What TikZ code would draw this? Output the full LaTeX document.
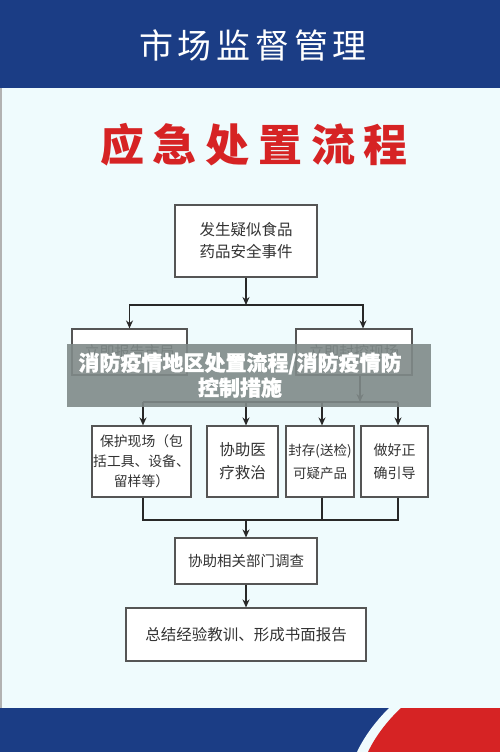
\documentclass[tikz,border=0pt]{standalone}
\usepackage{fontspec}
\usetikzlibrary{arrows.meta,calc}
\newfontfamily\cjk{Noto Sans CJK SC}
\definecolor{hdrblue}{RGB}{27,61,133}
\definecolor{bgc}{RGB}{239,251,253}
\definecolor{tred}{RGB}{214,35,36}
\definecolor{linec}{RGB}{40,40,40}
\definecolor{boxc}{RGB}{85,85,85}
\definecolor{txt}{RGB}{51,51,51}
\definecolor{ovl}{RGB}{128,138,137}
\begin{document}
\begin{tikzpicture}[x=1pt,y=-1pt,
  box/.style={draw=boxc,line width=1.1pt,fill=white,inner sep=0pt,align=center,text=txt},
  arr/.style={draw=linec,line width=1.4pt,-{Stealth[length=8pt,width=7pt]}},
  ln/.style={draw=linec,line width=1.4pt}]
\useasboundingbox (0,0) rectangle (500,752);
\fill[bgc] (0,0) rectangle (500,752);
\fill[hdrblue] (0,0) rectangle (500,88);
\fill[hdrblue] (0,708) rectangle (500,752);
\fill[bgc] (389,708) .. controls (375,722) and (364,737) .. (357,752) -- (500,752) -- (500,708) -- cycle;
\fill[tred] (401,708) .. controls (387,721) and (375,737) .. (368,752) -- (500,752) -- (500,708) -- cycle;
\draw[gray!60,line width=1.5pt] (0.75,88) -- (0.75,708);

\node[text=white,font=\cjk\fontsize{34}{40}\selectfont\addfontfeature{LetterSpace=14}] (hdr) at (253,45) {市场监督管理};
\node[text=tred,font=\cjk\bfseries\fontsize{44}{50}\selectfont\addfontfeature{LetterSpace=20}] (ttl) at (254,145) {应急处置流程};

\node[box,minimum width=142pt,minimum height=72pt,font=\cjk\fontsize{15.5}{22}\selectfont] (b1) at (246,241) {发生疑似食品\\药品安全事件};
\node[box,minimum width=115pt,minimum height=46pt,font=\cjk\fontsize{15}{20}\selectfont] (lb) at (129.5,352) {立即报告市局};
\node[box,minimum width=116pt,minimum height=46pt,font=\cjk\fontsize{15}{20}\selectfont] (rb) at (354,352) {立即封控现场};
\node[box,minimum width=99pt,minimum height=71pt,font=\cjk\fontsize{13.8}{20}\selectfont] (bA) at (141.5,461.5) {保护现场（包\\括工具、设备、\\留样等）};
\node[box,minimum width=71pt,minimum height=71pt,font=\cjk\fontsize{15.5}{23}\selectfont] (bB) at (242.5,461.5) {协助医\\疗救治};
\node[box,minimum width=68pt,minimum height=71pt,font=\cjk\fontsize{13.5}{23}\selectfont] (bC) at (320,461.5) {封存(送检)\\可疑产品};
\node[box,minimum width=67pt,minimum height=71pt,font=\cjk\fontsize{14}{23}\selectfont] (bD) at (394.5,461.5) {做好正\\确引导};
\node[box,minimum width=142pt,minimum height=46pt,font=\cjk\fontsize{14.5}{20}\selectfont] (bE) at (246,561) {协助相关部门调查};
\node[box,minimum width=240pt,minimum height=53pt,font=\cjk\fontsize{15.5}{20}\selectfont] (bF) at (246,634.5) {总结经验教训、形成书面报告};

\coordinate (j1) at (246,305);
\draw[arr] (b1.south) -- (j1);
\draw[arr] (j1) -| (lb.north);
\draw[arr] (j1) -| ($(rb.north)+(9,0)$);

\coordinate (j2) at (360,402);
\draw[arr] ($(rb.south)+(6,0)$) -- (j2);
\draw[ln] (143,402) -- (398,402);
\draw[arr] (143,402) -- ($(bA.north)+(1.5,0)$);
\draw[arr] (246,402) -- ($(bB.north)+(3.5,0)$);
\draw[arr] (322,402) -- ($(bC.north)+(2,0)$);
\draw[arr] (398,402) -- ($(bD.north)+(3.5,0)$);

\coordinate (j3) at (246,520);
\draw[ln] ($(bA.south)+(1.5,0)$) |- (j3);
\draw[ln] ($(bD.south)+(3.5,0)$) |- (j3);
\draw[ln] ($(bC.south)+(2,0)$) -- (322,520);
\draw[arr] (j3) -- (bE.north);
\draw[arr] (bE.south) -- (bF.north);

\fill[ovl,opacity=0.9] (67,344) rectangle (431,407);
\node[text=white,align=center,font=\cjk\bfseries\fontsize{21}{25}\selectfont\addfontfeature{FakeBold=1.2}] (ov) at (240,375) {消防疫情地区处置流程/消防疫情防\\控制措施};
\end{tikzpicture}
\end{document}
